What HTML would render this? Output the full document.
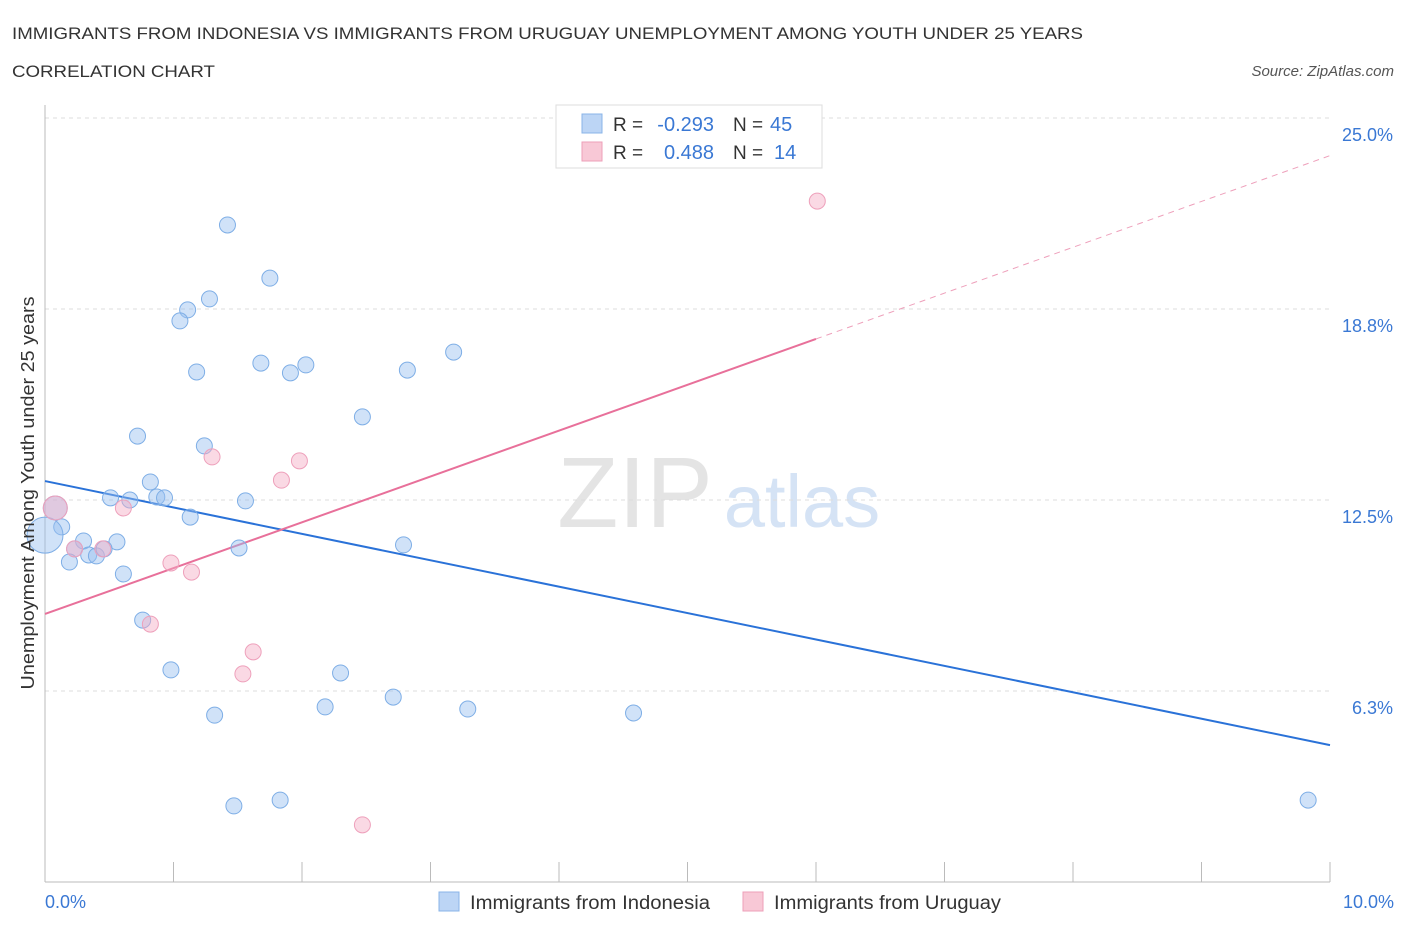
<!DOCTYPE html>
<html><head><meta charset="utf-8"><style>
body{margin:0;background:#fff;font-family:"Liberation Sans",sans-serif;}
svg text{font-family:"Liberation Sans",sans-serif;}
</style></head><body>
<svg id="chart" width="1406" height="930" xmlns="http://www.w3.org/2000/svg">
<text x="12" y="39" font-size="17" fill="#333" textLength="1071" lengthAdjust="spacingAndGlyphs">IMMIGRANTS FROM INDONESIA VS IMMIGRANTS FROM URUGUAY UNEMPLOYMENT AMONG YOUTH UNDER 25 YEARS</text>
<text x="12" y="77" font-size="17" fill="#333" textLength="203" lengthAdjust="spacingAndGlyphs">CORRELATION CHART</text>
<text x="1394" y="76" font-size="15" fill="#555" font-style="italic" text-anchor="end">Source: ZipAtlas.com</text>
<g>
<text x="635" y="527" font-size="100" fill="#e4e4e4" font-family="Liberation Serif" text-anchor="middle">ZIP</text>
<text x="802" y="527" font-size="74" fill="#d5e3f5" text-anchor="middle">atlas</text>
</g>
<g id="grid"></g>
<g id="axes"></g>
<g id="trend"></g>
<g id="points"></g>
<g>
<rect x="556" y="105" width="266" height="63" fill="#fff" stroke="#ddd"/>
<rect x="582" y="114" width="20" height="19" fill="#bcd5f5" stroke="#8ab4e8"/>
<text x="613" y="131" font-size="19" fill="#333">R =</text>
<text x="714" y="131" font-size="20" fill="#3a78d4" text-anchor="end">-0.293</text>
<text x="733" y="131" font-size="19" fill="#333">N =</text>
<text x="770" y="131" font-size="20" fill="#3a78d4">45</text>
<rect x="582" y="142" width="20" height="19" fill="#f8c8d6" stroke="#ee9fb8"/>
<text x="613" y="159" font-size="19" fill="#333">R =</text>
<text x="714" y="159" font-size="20" fill="#3a78d4" text-anchor="end">0.488</text>
<text x="733" y="159" font-size="19" fill="#333">N =</text>
<text x="774" y="159" font-size="20" fill="#3a78d4">14</text>
</g>
<g>
<rect x="439" y="892" width="20" height="19" fill="#bcd5f5" stroke="#8ab4e8"/>
<text x="470" y="909" font-size="19" fill="#333" textLength="240" lengthAdjust="spacingAndGlyphs">Immigrants from Indonesia</text>
<rect x="743" y="892" width="20" height="19" fill="#f8c8d6" stroke="#ee9fb8"/>
<text x="774" y="909" font-size="19" fill="#333" textLength="227" lengthAdjust="spacingAndGlyphs">Immigrants from Uruguay</text>
</g>
<text transform="translate(34,493) rotate(-90)" font-size="18" fill="#333" text-anchor="middle" textLength="393" lengthAdjust="spacingAndGlyphs">Unemployment Among Youth under 25 years</text>
</svg>
<script>
const yTicks=[6.25,12.5,18.75,25];
const yTickLabels=["6.3%","12.5%","18.8%","25.0%"];
const xTickLabels=["0.0%","10.0%"];
const blueX=[1.42,1.75,1.28,1.11,1.05,1.18,1.68,1.91,2.03,2.82,3.18,2.47,0.72,1.24,0.82,0.51,0.66,0.87,0.93,1.13,1.56,0.13,0.30,0.56,0.23,0.34,0.40,0.46,0.19,1.51,2.79,0.61,0.76,0.98,2.30,2.71,2.18,3.29,1.32,4.58,1.47,1.83,9.83,0.0,0.08];
const blueY=[21.5,19.76,19.08,18.72,18.36,16.69,16.98,16.66,16.92,16.75,17.34,15.22,14.59,14.27,13.09,12.57,12.5,12.6,12.57,11.94,12.47,11.62,11.16,11.13,10.9,10.7,10.67,10.9,10.47,10.93,11.03,10.08,8.57,6.94,6.84,6.05,5.73,5.66,5.46,5.53,2.49,2.68,2.68,11.35,12.24];
const blueR=[8,8,8,8,8,8,8,8,8,8,8,8,8,8,8,8,8,8,8,8,8,8,8,8,8,8,8,8,8,8,8,8,8,8,8,8,8,8,8,8,8,8,8,18,12];
const pinkX=[6.01,1.30,1.98,1.84,0.61,0.08,0.45,0.23,0.98,1.14,0.82,1.62,1.54,2.47];
const pinkY=[22.28,13.91,13.78,13.15,12.24,12.24,10.9,10.9,10.44,10.14,8.44,7.53,6.81,1.87];
const pinkR=[8,8,8,8,8,12,8,8,8,8,8,8,8,8];
const blueTrend=[13.12,4.48];
const pinkTrend=[8.77,23.77];
const pinkSolidEnd=6.0;
const NS="http://www.w3.org/2000/svg";
const X=v=>45+v*128.5, Y=v=>882-v*30.56;
function mk(t,a,p){const e=document.createElementNS(NS,t);for(const k in a)e.setAttribute(k,a[k]);p.appendChild(e);return e;}
const grid=document.getElementById('grid'),axes=document.getElementById('axes'),tr=document.getElementById('trend'),pts=document.getElementById('points');
yTicks.forEach((v,i)=>{
 const l=mk('line',{x1:45,x2:1330,y1:Y(v),y2:Y(v),stroke:'#ddd','stroke-dasharray':'4,4'},grid);
 
 
 const t=mk('text',{x:1393,y:Y(v)+23,'font-size':18,fill:'#3a78d4','text-anchor':'end'},grid);
 t.textContent=yTickLabels[i];
 
 
});
let a=mk('line',{x1:45,x2:1330,y1:882,y2:882,stroke:'#bbb'},axes);


a=mk('line',{x1:45,x2:45,y1:105,y2:882,stroke:'#bbb'},axes);


for(let i=0;i<=10;i++){const t=mk('line',{x1:X(i),x2:X(i),y1:862,y2:882,stroke:'#bbb'},axes);
 
 }
[[0,'start',45],[10,'end',1394]].forEach((d,i)=>{const t=mk('text',{x:d[2],y:908,'font-size':18,fill:'#3a78d4','text-anchor':d[1]},axes);t.textContent=xTickLabels[i];
 
 });
let l=mk('line',{x1:X(0),y1:Y(blueTrend[0]),x2:X(10),y2:Y(blueTrend[1]),stroke:'#2a72d8','stroke-width':2},tr);


const ps=(pinkTrend[1]-pinkTrend[0])/10, py=pinkTrend[0]+ps*pinkSolidEnd;
l=mk('line',{x1:X(0),y1:Y(pinkTrend[0]),x2:X(pinkSolidEnd),y2:Y(py),stroke:'#e8709a','stroke-width':2},tr);


l=mk('line',{x1:X(pinkSolidEnd),y1:Y(py),x2:X(10),y2:Y(pinkTrend[1]),stroke:'#eea0bb','stroke-width':1,'stroke-dasharray':'6,5'},tr);


blueX.forEach((x,i)=>{const c=mk('circle',{cx:X(x),cy:Y(blueY[i]),r:blueR[i],fill:'rgba(150,190,240,0.45)',stroke:'#7eaee6','stroke-width':1},pts);
 
 });
pinkX.forEach((x,i)=>{const c=mk('circle',{cx:X(x),cy:Y(pinkY[i]),r:pinkR[i],fill:'rgba(245,170,195,0.45)',stroke:'#eea0bb','stroke-width':1},pts);
 
 });
</script>
</body></html>
